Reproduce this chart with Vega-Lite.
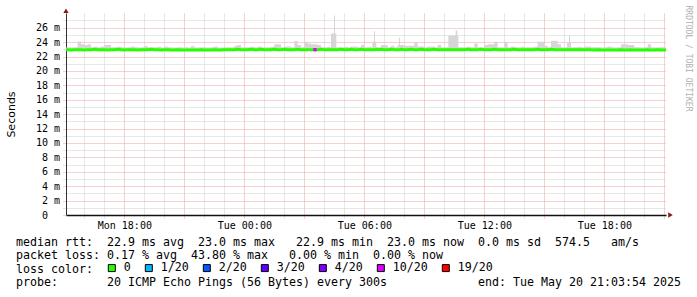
{
  "$schema": "https://vega.github.io/schema/vega-lite/v6.json",
  "width": 600,
  "height": 202,
  "autosize": "none",
  "padding": {"left": 66, "top": 13, "right": 31, "bottom": 82},
  "background": "#ffffff",
  "view": {"stroke": null},
  "title": {
    "text": [
      "median rtt:\u00a0\u00a022.9 ms avg\u00a0\u00a023.0 ms max\u00a0\u00a0\u00a022.9 ms min\u00a0\u00a023.0 ms now\u00a0\u00a00.0 ms sd\u00a0\u00a0574.5\u00a0\u00a0\u00a0am/s",
      "packet loss: 0.17 % avg\u00a0\u00a043.80 % max\u00a0\u00a0\u00a00.00 % min\u00a0\u00a00.00 % now",
      "loss color:"
    ],
    "subtitle": "probe:\u00a0\u00a0\u00a0\u00a0\u00a0\u00a0\u00a020 ICMP Echo Pings (56 Bytes) every 300s\u00a0\u00a0\u00a0\u00a0\u00a0\u00a0\u00a0\u00a0\u00a0\u00a0\u00a0\u00a0\u00a0end: Tue May 20 21:03:54 2025",
    "orient": "bottom",
    "anchor": "start",
    "frame": "group",
    "dx": -50,
    "offset": -37.5,
    "font": "DejaVu Sans Mono",
    "fontSize": 11.63,
    "fontWeight": "normal",
    "color": "#000000",
    "lineHeight": 13.67,
    "subtitleFont": "DejaVu Sans Mono",
    "subtitleFontSize": 11.63,
    "subtitleFontWeight": "normal",
    "subtitleColor": "#000000",
    "subtitleLineHeight": 13.67,
    "subtitlePadding": 2
  },
  "datasets": {
    "rtt": [
      {"t": "2025-05-19T15:05", "med": 22.95, "max": 23.25},
      {"t": "2025-05-19T15:10", "med": 22.95, "max": 23.3},
      {"t": "2025-05-19T15:20", "med": 22.9, "max": 23.25},
      {"t": "2025-05-19T15:30", "med": 22.95, "max": 23.3},
      {"t": "2025-05-19T15:40", "med": 22.95, "max": 24.1},
      {"t": "2025-05-19T15:50", "med": 22.95, "max": 23.7},
      {"t": "2025-05-19T16:00", "med": 22.9, "max": 23.6},
      {"t": "2025-05-19T16:10", "med": 22.95, "max": 23.7},
      {"t": "2025-05-19T16:20", "med": 22.95, "max": 23.3},
      {"t": "2025-05-19T16:30", "med": 23.0, "max": 23.35},
      {"t": "2025-05-19T16:40", "med": 22.95, "max": 23.3},
      {"t": "2025-05-19T16:50", "med": 22.95, "max": 23.4},
      {"t": "2025-05-19T17:00", "med": 22.95, "max": 23.6},
      {"t": "2025-05-19T17:10", "med": 22.9, "max": 23.6},
      {"t": "2025-05-19T17:20", "med": 22.95, "max": 23.3},
      {"t": "2025-05-19T17:30", "med": 22.95, "max": 23.3},
      {"t": "2025-05-19T17:40", "med": 23.0, "max": 23.35},
      {"t": "2025-05-19T17:50", "med": 22.95, "max": 23.3},
      {"t": "2025-05-19T18:00", "med": 22.9, "max": 23.25},
      {"t": "2025-05-19T18:10", "med": 22.95, "max": 23.3},
      {"t": "2025-05-19T18:20", "med": 22.95, "max": 23.4},
      {"t": "2025-05-19T18:30", "med": 22.95, "max": 23.3},
      {"t": "2025-05-19T18:40", "med": 22.9, "max": 23.25},
      {"t": "2025-05-19T18:50", "med": 22.95, "max": 23.3},
      {"t": "2025-05-19T19:00", "med": 22.95, "max": 23.45},
      {"t": "2025-05-19T19:10", "med": 22.95, "max": 23.3},
      {"t": "2025-05-19T19:20", "med": 23.0, "max": 23.3},
      {"t": "2025-05-19T19:30", "med": 22.95, "max": 23.3},
      {"t": "2025-05-19T19:40", "med": 22.95, "max": 23.35},
      {"t": "2025-05-19T19:50", "med": 22.9, "max": 23.25},
      {"t": "2025-05-19T20:00", "med": 22.95, "max": 23.4},
      {"t": "2025-05-19T20:10", "med": 22.95, "max": 23.3},
      {"t": "2025-05-19T20:20", "med": 22.9, "max": 23.25},
      {"t": "2025-05-19T20:30", "med": 22.9, "max": 23.25},
      {"t": "2025-05-19T20:40", "med": 22.95, "max": 23.3},
      {"t": "2025-05-19T20:50", "med": 22.9, "max": 23.25},
      {"t": "2025-05-19T21:00", "med": 22.9, "max": 23.3},
      {"t": "2025-05-19T21:10", "med": 22.9, "max": 23.25},
      {"t": "2025-05-19T21:20", "med": 22.9, "max": 23.45},
      {"t": "2025-05-19T21:30", "med": 22.9, "max": 23.25},
      {"t": "2025-05-19T21:40", "med": 22.9, "max": 23.25},
      {"t": "2025-05-19T21:50", "med": 22.95, "max": 23.3},
      {"t": "2025-05-19T22:00", "med": 22.9, "max": 23.25},
      {"t": "2025-05-19T22:10", "med": 22.9, "max": 23.25},
      {"t": "2025-05-19T22:20", "med": 22.9, "max": 23.3},
      {"t": "2025-05-19T22:30", "med": 22.95, "max": 23.4},
      {"t": "2025-05-19T22:40", "med": 22.9, "max": 23.25},
      {"t": "2025-05-19T22:50", "med": 22.9, "max": 23.25},
      {"t": "2025-05-19T23:00", "med": 22.95, "max": 23.3},
      {"t": "2025-05-19T23:10", "med": 22.95, "max": 23.3},
      {"t": "2025-05-19T23:20", "med": 22.95, "max": 23.3},
      {"t": "2025-05-19T23:30", "med": 22.95, "max": 23.5},
      {"t": "2025-05-19T23:40", "med": 23.0, "max": 23.6},
      {"t": "2025-05-19T23:50", "med": 22.95, "max": 23.3},
      {"t": "2025-05-20T00:00", "med": 22.95, "max": 23.3},
      {"t": "2025-05-20T00:10", "med": 22.95, "max": 23.3},
      {"t": "2025-05-20T00:20", "med": 23.0, "max": 23.35},
      {"t": "2025-05-20T00:30", "med": 22.95, "max": 23.3},
      {"t": "2025-05-20T00:40", "med": 22.95, "max": 23.4},
      {"t": "2025-05-20T00:50", "med": 23.0, "max": 23.3},
      {"t": "2025-05-20T01:00", "med": 22.95, "max": 23.3},
      {"t": "2025-05-20T01:10", "med": 22.95, "max": 23.3},
      {"t": "2025-05-20T01:20", "med": 22.95, "max": 23.35},
      {"t": "2025-05-20T01:30", "med": 23.0, "max": 23.7},
      {"t": "2025-05-20T01:40", "med": 22.95, "max": 23.7},
      {"t": "2025-05-20T01:50", "med": 22.95, "max": 23.3},
      {"t": "2025-05-20T02:00", "med": 23.0, "max": 23.4},
      {"t": "2025-05-20T02:10", "med": 22.95, "max": 23.4},
      {"t": "2025-05-20T02:20", "med": 22.95, "max": 23.3},
      {"t": "2025-05-20T02:30", "med": 22.95, "max": 24.15},
      {"t": "2025-05-20T02:40", "med": 23.0, "max": 23.6},
      {"t": "2025-05-20T02:50", "med": 22.95, "max": 23.3},
      {"t": "2025-05-20T03:00", "med": 22.95, "max": 24.05},
      {"t": "2025-05-20T03:10", "med": 22.95, "max": 23.8},
      {"t": "2025-05-20T03:20", "med": 22.95, "max": 23.7},
      {"t": "2025-05-20T03:30", "med": 22.95, "max": 23.7},
      {"t": "2025-05-20T03:40", "med": 22.95, "max": 23.6},
      {"t": "2025-05-20T03:50", "med": 23.0, "max": 23.3},
      {"t": "2025-05-20T04:00", "med": 22.95, "max": 23.3},
      {"t": "2025-05-20T04:10", "med": 22.95, "max": 23.35},
      {"t": "2025-05-20T04:20", "med": 22.95, "max": 25.2},
      {"t": "2025-05-20T04:29", "med": 22.95, "max": 27.7},
      {"t": "2025-05-20T04:32", "med": 22.95, "max": 25.2},
      {"t": "2025-05-20T04:36", "med": 22.95, "max": 23.3},
      {"t": "2025-05-20T04:40", "med": 22.95, "max": 23.3},
      {"t": "2025-05-20T04:50", "med": 23.0, "max": 23.3},
      {"t": "2025-05-20T05:00", "med": 22.95, "max": 23.35},
      {"t": "2025-05-20T05:10", "med": 22.95, "max": 23.3},
      {"t": "2025-05-20T05:20", "med": 23.0, "max": 23.4},
      {"t": "2025-05-20T05:30", "med": 22.95, "max": 23.4},
      {"t": "2025-05-20T05:40", "med": 22.95, "max": 23.3},
      {"t": "2025-05-20T05:50", "med": 23.0, "max": 23.6},
      {"t": "2025-05-20T06:00", "med": 22.95, "max": 23.3},
      {"t": "2025-05-20T06:10", "med": 22.95, "max": 23.35},
      {"t": "2025-05-20T06:20", "med": 22.95, "max": 23.3},
      {"t": "2025-05-20T06:24", "med": 22.95, "max": 24.05},
      {"t": "2025-05-20T06:29", "med": 22.95, "max": 25.5},
      {"t": "2025-05-20T06:32", "med": 22.95, "max": 24.05},
      {"t": "2025-05-20T06:36", "med": 23.0, "max": 23.3},
      {"t": "2025-05-20T06:40", "med": 22.95, "max": 23.3},
      {"t": "2025-05-20T06:50", "med": 23.0, "max": 23.6},
      {"t": "2025-05-20T07:00", "med": 22.95, "max": 23.6},
      {"t": "2025-05-20T07:10", "med": 22.95, "max": 23.3},
      {"t": "2025-05-20T07:20", "med": 23.0, "max": 23.5},
      {"t": "2025-05-20T07:30", "med": 22.95, "max": 23.3},
      {"t": "2025-05-20T07:40", "med": 22.95, "max": 23.6},
      {"t": "2025-05-20T07:44", "med": 22.95, "max": 24.6},
      {"t": "2025-05-20T07:47", "med": 22.95, "max": 23.6},
      {"t": "2025-05-20T07:50", "med": 23.0, "max": 23.6},
      {"t": "2025-05-20T08:00", "med": 22.95, "max": 23.5},
      {"t": "2025-05-20T08:10", "med": 22.95, "max": 23.5},
      {"t": "2025-05-20T08:20", "med": 23.0, "max": 23.5},
      {"t": "2025-05-20T08:30", "med": 22.95, "max": 23.9},
      {"t": "2025-05-20T08:40", "med": 22.95, "max": 23.4},
      {"t": "2025-05-20T08:50", "med": 23.0, "max": 23.4},
      {"t": "2025-05-20T09:00", "med": 22.95, "max": 23.3},
      {"t": "2025-05-20T09:10", "med": 22.95, "max": 23.4},
      {"t": "2025-05-20T09:20", "med": 22.95, "max": 23.4},
      {"t": "2025-05-20T09:30", "med": 23.0, "max": 23.3},
      {"t": "2025-05-20T09:40", "med": 22.95, "max": 23.6},
      {"t": "2025-05-20T09:50", "med": 22.95, "max": 23.3},
      {"t": "2025-05-20T10:00", "med": 22.95, "max": 23.3},
      {"t": "2025-05-20T10:10", "med": 22.95, "max": 23.3},
      {"t": "2025-05-20T10:12", "med": 22.95, "max": 24.9},
      {"t": "2025-05-20T10:20", "med": 22.95, "max": 24.9},
      {"t": "2025-05-20T10:30", "med": 22.95, "max": 24.9},
      {"t": "2025-05-20T10:34", "med": 22.95, "max": 25.6},
      {"t": "2025-05-20T10:39", "med": 22.95, "max": 24.9},
      {"t": "2025-05-20T10:42", "med": 22.95, "max": 23.3},
      {"t": "2025-05-20T10:50", "med": 22.95, "max": 23.3},
      {"t": "2025-05-20T11:00", "med": 22.95, "max": 23.3},
      {"t": "2025-05-20T11:10", "med": 23.0, "max": 23.35},
      {"t": "2025-05-20T11:20", "med": 22.95, "max": 23.3},
      {"t": "2025-05-20T11:30", "med": 22.95, "max": 23.8},
      {"t": "2025-05-20T11:40", "med": 22.95, "max": 23.3},
      {"t": "2025-05-20T11:50", "med": 23.0, "max": 23.3},
      {"t": "2025-05-20T12:00", "med": 22.95, "max": 23.6},
      {"t": "2025-05-20T12:10", "med": 22.95, "max": 23.7},
      {"t": "2025-05-20T12:20", "med": 22.95, "max": 23.7},
      {"t": "2025-05-20T12:30", "med": 23.0, "max": 24.05},
      {"t": "2025-05-20T12:40", "med": 22.95, "max": 23.3},
      {"t": "2025-05-20T12:50", "med": 22.95, "max": 23.3},
      {"t": "2025-05-20T13:00", "med": 22.95, "max": 24.05},
      {"t": "2025-05-20T13:10", "med": 22.95, "max": 23.3},
      {"t": "2025-05-20T13:20", "med": 22.95, "max": 23.4},
      {"t": "2025-05-20T13:30", "med": 23.0, "max": 23.3},
      {"t": "2025-05-20T13:40", "med": 22.95, "max": 23.3},
      {"t": "2025-05-20T13:50", "med": 22.95, "max": 23.35},
      {"t": "2025-05-20T14:00", "med": 22.95, "max": 23.3},
      {"t": "2025-05-20T14:10", "med": 22.95, "max": 23.3},
      {"t": "2025-05-20T14:20", "med": 22.95, "max": 23.3},
      {"t": "2025-05-20T14:30", "med": 22.95, "max": 23.35},
      {"t": "2025-05-20T14:40", "med": 23.0, "max": 24.05},
      {"t": "2025-05-20T14:50", "med": 22.95, "max": 24.05},
      {"t": "2025-05-20T15:00", "med": 22.95, "max": 23.5},
      {"t": "2025-05-20T15:10", "med": 22.95, "max": 23.3},
      {"t": "2025-05-20T15:20", "med": 23.0, "max": 24.2},
      {"t": "2025-05-20T15:30", "med": 22.95, "max": 24.2},
      {"t": "2025-05-20T15:40", "med": 22.95, "max": 23.7},
      {"t": "2025-05-20T15:50", "med": 22.95, "max": 23.3},
      {"t": "2025-05-20T16:00", "med": 22.95, "max": 23.3},
      {"t": "2025-05-20T16:08", "med": 22.95, "max": 23.9},
      {"t": "2025-05-20T16:14", "med": 22.95, "max": 25.0},
      {"t": "2025-05-20T16:17", "med": 22.95, "max": 23.9},
      {"t": "2025-05-20T16:20", "med": 22.95, "max": 23.3},
      {"t": "2025-05-20T16:30", "med": 22.95, "max": 23.3},
      {"t": "2025-05-20T16:40", "med": 22.95, "max": 23.35},
      {"t": "2025-05-20T16:50", "med": 22.95, "max": 23.3},
      {"t": "2025-05-20T17:00", "med": 22.95, "max": 23.4},
      {"t": "2025-05-20T17:10", "med": 22.95, "max": 23.4},
      {"t": "2025-05-20T17:20", "med": 22.95, "max": 23.3},
      {"t": "2025-05-20T17:30", "med": 22.9, "max": 23.3},
      {"t": "2025-05-20T17:40", "med": 22.95, "max": 23.3},
      {"t": "2025-05-20T17:50", "med": 22.9, "max": 23.25},
      {"t": "2025-05-20T18:00", "med": 22.9, "max": 23.3},
      {"t": "2025-05-20T18:10", "med": 22.9, "max": 23.4},
      {"t": "2025-05-20T18:20", "med": 22.9, "max": 23.3},
      {"t": "2025-05-20T18:30", "med": 22.9, "max": 23.25},
      {"t": "2025-05-20T18:40", "med": 22.9, "max": 23.3},
      {"t": "2025-05-20T18:50", "med": 22.95, "max": 23.7},
      {"t": "2025-05-20T19:00", "med": 22.9, "max": 23.7},
      {"t": "2025-05-20T19:10", "med": 22.9, "max": 23.6},
      {"t": "2025-05-20T19:20", "med": 22.95, "max": 23.6},
      {"t": "2025-05-20T19:30", "med": 22.9, "max": 23.3},
      {"t": "2025-05-20T19:40", "med": 22.9, "max": 23.3},
      {"t": "2025-05-20T19:50", "med": 22.9, "max": 23.25},
      {"t": "2025-05-20T20:00", "med": 22.9, "max": 23.3},
      {"t": "2025-05-20T20:10", "med": 22.95, "max": 23.7},
      {"t": "2025-05-20T20:20", "med": 22.9, "max": 23.3},
      {"t": "2025-05-20T20:30", "med": 22.9, "max": 23.25},
      {"t": "2025-05-20T20:40", "med": 22.95, "max": 23.3},
      {"t": "2025-05-20T20:50", "med": 22.9, "max": 23.3},
      {"t": "2025-05-20T21:00", "med": 22.9, "max": 23.3},
      {"t": "2025-05-20T21:05", "med": 22.9, "max": 23.3}
    ],
    "loss": [
      {"t": "2025-05-20T03:32", "med": 22.95, "loss": "10/20"}
    ],
    "arrows": [
      {"t": "2025-05-19T15:05", "v": 28.35, "dir": "up"},
      {"t": "2025-05-20T21:05", "v": 0, "dir": "right"}
    ]
  },
  "resolve": {"axis": {"y": "independent"}},
  "layer": [
    {
      "data": {"name": "rtt"},
      "mark": {"type": "area", "interpolate": "step-after", "color": "#d6d6d6", "clip": true},
      "encoding": {
        "x": {
          "field": "t", "type": "temporal",
          "axis": {
            "title": null,
            "tickCount": 30,
            "labelExpr": "hours(datum.value) % 6 == 0 ? timeFormat(datum.value, '%a %H:%M') : ''",
            "labelOverlap": false,
            "labelFlush": false,
            "labelFont": "DejaVu Sans Mono",
            "labelFontSize": 10,
            "labelColor": "#000000",
            "labelPadding": 1,
            "grid": true,
            "gridColor": {"condition": {"test": "hours(datum.value) % 3 == 0", "value": "#f2a0a0"}, "value": "#cfcfcf"},
            "gridDash": [1, 1],
            "gridOpacity": 1,
            "ticks": true,
            "tickSize": 4,
            "tickDash": [1, 1],
            "tickColor": {"condition": {"test": "hours(datum.value) % 3 == 0", "value": "#f2a0a0"}, "value": "#cfcfcf"},
            "domainColor": "#111111",
            "domainWidth": 1.5
          }
        },
        "y": {
          "field": "max", "type": "quantitative",
          "scale": {"domain": [0, 28.04], "nice": false, "zero": false},
          "axis": {
            "title": "Seconds",
            "titleFont": "DejaVu Sans",
            "titleFontSize": 11,
            "titleFontWeight": "normal",
            "titleColor": "#000000",
            "titleAngle": -90,
            "titleX": -55,
            "titleY": 101,
            "titleAlign": "center",
            "titleBaseline": "middle",
            "values": [0, 1, 2, 3, 4, 5, 6, 7, 8, 9, 10, 11, 12, 13, 14, 15, 16, 17, 18, 19, 20, 21, 22, 23, 24, 25, 26, 27],
            "labelExpr": "datum.value == 0 ? '0\u00a0\u00a0\u200b' : (datum.value % 2 == 0 ? datum.value + '\u00a0m' : '')",
            "labelFont": "DejaVu Sans Mono",
            "labelFontSize": 10,
            "labelColor": "#000000",
            "labelPadding": 3.5,
            "labelOverlap": false,
            "labelFlush": false,
            "grid": true,
            "gridColor": {"condition": {"test": "datum.value % 2 == 0", "value": "#f2a0a0"}, "value": "#cfcfcf"},
            "gridDash": [1, 1],
            "gridOpacity": 1,
            "ticks": true,
            "tickSize": 3,
            "tickDash": [1, 1],
            "tickColor": {"condition": {"test": "datum.value % 2 == 0", "value": "#f2a0a0"}, "value": "#cfcfcf"},
            "domainColor": "#333333",
            "domainWidth": 1
          }
        },
        "y2": {"field": "med"}
      }
    },
    {
      "data": {"name": "rtt"},
      "mark": {"type": "line", "color": "#26ff00", "strokeWidth": 3, "clip": true},
      "encoding": {
        "x": {"field": "t", "type": "temporal"},
        "y": {"field": "med", "type": "quantitative", "axis": null}
      }
    },
    {
      "data": {"name": "loss"},
      "mark": {"type": "point", "shape": "square", "filled": true, "size": 11, "opacity": 1},
      "encoding": {
        "x": {"field": "t", "type": "temporal"},
        "y": {
          "field": "med", "type": "quantitative",
          "axis": {
            "orient": "right",
            "title": "RRDTOOL / TOBI OETIKER",
            "titleFont": "DejaVu Sans Mono",
            "titleFontSize": 8,
            "titleFontWeight": "normal",
            "titleColor": "#b0b0b0",
            "titleAngle": 90,
            "titleX": 21,
            "titleY": -8,
            "titleAlign": "left",
            "titleBaseline": "middle",
            "labels": false,
            "ticks": false,
            "domain": false,
            "grid": false
          }
        },
        "color": {
          "field": "loss", "type": "nominal",
          "scale": {
            "domain": ["0", "1/20", "2/20", "3/20", "4/20", "10/20", "19/20"],
            "range": ["#26ff00", "#00b8ff", "#0059ff", "#5e00ff", "#7e00ff", "#dd00ff", "#ff0000"]
          },
          "legend": {
            "orient": "none",
            "legendX": 40,
            "legendY": 249,
            "direction": "horizontal",
            "title": null,
            "symbolType": "square",
            "symbolSize": 49,
            "symbolStrokeWidth": 1,
            "symbolStrokeColor": "#000000",
            "labelFont": "DejaVu Sans Mono",
            "labelFontSize": 11.63,
            "labelColor": "#000000",
            "labelOffset": 6,
            "columnPadding": 12,
            "padding": 0,
            "symbolOffset": 0,
            "encode": {
              "symbols": {"update": {"stroke": {"value": "#000000"}, "strokeWidth": {"value": 1}, "opacity": {"value": 1}}}
            }
          }
        }
      }
    },
    {
      "data": {"name": "arrows"},
      "transform": [{"filter": "datum.dir == 'up'"}],
      "mark": {"type": "point", "shape": "triangle-up", "filled": true, "size": 28, "color": "#8b1a1a", "opacity": 1},
      "encoding": {
        "x": {"field": "t", "type": "temporal"},
        "y": {"field": "v", "type": "quantitative", "axis": null}
      }
    },
    {
      "data": {"name": "arrows"},
      "transform": [{"filter": "datum.dir == 'right'"}],
      "mark": {"type": "point", "shape": "triangle-right", "filled": true, "size": 28, "color": "#8b1a1a", "opacity": 1, "xOffset": 4.5},
      "encoding": {
        "x": {"field": "t", "type": "temporal"},
        "y": {"field": "v", "type": "quantitative", "axis": null}
      }
    }
  ]
}
